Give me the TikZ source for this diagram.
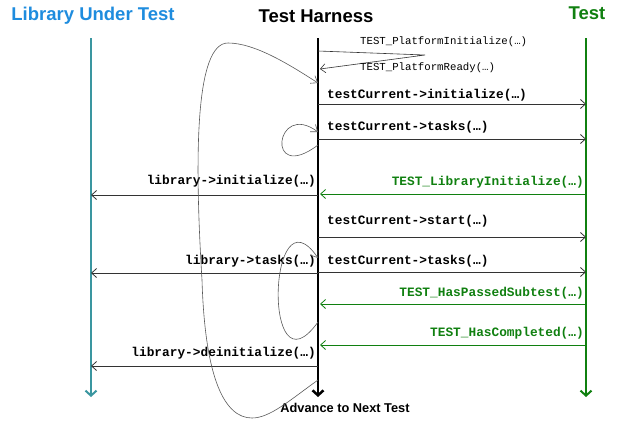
\documentclass[tikz,border=0pt]{standalone}
\usepackage{fontspec}
\setmainfont{Liberation Sans}
\setmonofont{Liberation Mono}
\usetikzlibrary{arrows.meta}
\definecolor{libblue}{RGB}{30,140,222}
\definecolor{libteal}{RGB}{58,150,160}
\definecolor{testgreen}{RGB}{16,128,16}
\begin{document}
\begin{tikzpicture}[x=1pt,y=-1pt,
  headline/.style={font=\fontsize{18.5}{20}\selectfont\bfseries,inner sep=0pt},
  life/.style={line width=2pt,-{Straight Barb[length=5pt,width=11pt]}},
  msg/.style={black!80,line width=0.8pt,-{Straight Barb[length=5pt,width=9pt]}},
  call/.style={font=\fontsize{12.8}{14}\selectfont\ttfamily\bfseries,inner sep=0pt},
  platcall/.style={font=\fontsize{10.7}{12}\selectfont\ttfamily,inner sep=0pt,anchor=west},
  loopback/.style={black!65,line width=0.6pt,-{Straight Barb[length=6pt,width=9pt]}}]
\useasboundingbox (0,0) rectangle (619,423);
\node[headline,libblue] (libT) at (93,16) {Library Under Test};
\node[headline] (harT) at (316,16) {Test Harness};
\node[headline,testgreen] (testT) at (587,13) {Test};
\coordinate (lib0) at (91,38); \coordinate (lib1) at (91,397);
\coordinate (har0) at (318,38); \coordinate (har1) at (318,397);
\coordinate (test0) at (586,38); \coordinate (test1) at (586,397);
\draw[life,libteal] (lib0) -- (lib1);
\draw[life,line width=2.5pt] (har0) -- (har1);
\draw[life,testgreen] (test0) -- (test1);
\node[font=\fontsize{12.8}{14}\selectfont\bfseries,inner sep=0pt] (next) at (345,408) {Advance to Next Test};
\coordinate (pOut) at (318,51); \coordinate (pTurn) at (425,55); \coordinate (pIn) at (320,69);
\draw[msg,line width=0.6pt] (pOut) -- (pTurn) -- (pIn);
\node[platcall] (pInit) at (360,42) {TEST\_PlatformInitialize(…)};
\node[platcall] (pReady) at (360,68) {TEST\_PlatformReady(…)};
\foreach \n/\m/\l/\txt in {a/104/95/initialize,b/139/127/tasks,c/237/221/start,d/272/261/tasks} {
  \coordinate (h\n) at (318,\m); \coordinate (t\n) at (586,\m);
  \draw[msg] (h\n) -- (t\n);
  \node[call,anchor=west] (c\n) at (327,\l) {testCurrent->\txt(…)};
}
\foreach \n/\m/\l/\txt in {e/195/181/initialize,f/273/261/tasks,g/366/353/deinitialize} {
  \coordinate (h\n) at (318,\m); \coordinate (l\n) at (91,\m);
  \draw[msg] (h\n) -- (l\n);
  \node[call,anchor=east] (c\n) at (316,\l) {library->\txt(…)};
}
\foreach \n/\m/\l/\txt in {i/194/182/LibraryInitialize,j/304/293/HasPassedSubtest,k/345/333/HasCompleted} {
  \coordinate (t\n) at (586,\m); \coordinate (h\n) at (320,\m);
  \draw[msg,testgreen] (t\n) -- (h\n);
  \node[call,anchor=east,testgreen] (c\n) at (584,\l) {TEST\_\txt(…)};
}
\coordinate (r1a) at (318,145); \coordinate (r1b) at (318,132);
\draw[loopback] (r1a) .. controls (265,185) and (275,100) .. (r1b);
\coordinate (r2a) at (318,322); \coordinate (r2b) at (318,258);
\draw[loopback] (r2a) .. controls (262,400) and (268,185) .. (r2b);
\coordinate (nxa) at (318,380); \coordinate (nxb) at (318,83);
\draw[loopback] (nxa) .. controls (290,400) and (270,418) .. (252,418)
  .. controls (225,418) and (205,380) .. (202,280)
  .. controls (194,150) and (196,43) .. (228,43)
  .. controls (255,43) and (290,65) .. (nxb);
\end{tikzpicture}
\end{document}
